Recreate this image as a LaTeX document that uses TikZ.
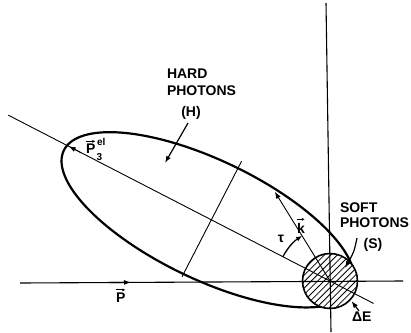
\documentclass[tikz,border=0pt]{standalone}
\usepackage{fontspec}
\setmainfont{Liberation Sans}
\usetikzlibrary{arrows.meta,calc}
\begin{document}
\begin{tikzpicture}[x=1pt,y=-1pt,
  lab/.style={font=\fontsize{14}{16}\selectfont\bfseries, inner sep=0pt, outer sep=0pt},
  smalllab/.style={font=\fontsize{10}{12}\selectfont\bfseries, inner sep=0pt, outer sep=0pt},
  boundary/.style={line width=2.2pt},
  axisline/.style={line width=1.1pt},
  thinline/.style={line width=0.9pt},
  hatchline/.style={line width=0.8pt},
  arr/.style={-{Latex[length=7pt,width=5pt]}},
  vecarr/.style={line width=0.9pt, -{Latex[length=3pt,width=3pt]}}]
\fill[white] (0,0) rectangle (411,332);
\useasboundingbox (0,0) rectangle (411,332);
\coordinate (O) at (330,281);

% ellipse (hard photons region), in a frame along the major axis
\begin{scope}[shift={(O)}, rotate=152.73]
  \draw[boundary] plot[domain=0:357.5, samples=144, smooth cycle, variable=\t]
    ({136.5 + 160*cos(\t)*cos(1.6) + 59.5*sin(\t)*sin(1.6)},
     {-1.5 - 160*cos(\t)*sin(1.6) + 59.5*sin(\t)*cos(1.6)});
\end{scope}

% soft photon sphere
\fill[white] (O) circle[radius=27.5];
\begin{scope}
  \clip (O) circle[radius=27.5];
  \foreach \d in {-70,-63.6,...,70}
    \draw[hatchline] ($(O)+(\d-40,40)$) -- ($(O)+(\d+40,-40)$);
\end{scope}
\draw[line width=1.6pt] (O) circle[radius=27.5];

% axes
\coordinate (hl) at (20,283);
\coordinate (hr) at (403,281);
\coordinate (vt) at (326,3);
\coordinate (vb) at (331,332);
\draw[axisline] (hl) -- (hr);
\draw[axisline] (vt) -- (vb);
\coordinate (ptail) at (110,282.5);
\coordinate (phead) at (131,282.4);
\draw[axisline, arr] (ptail) -- (phead);

% rotated frame along the major axis
\begin{scope}[shift={(O)}, rotate=152.73]
  \coordinate (dA) at (-49,0);
  \coordinate (dB) at (362,0);
  \coordinate (mA) at (133.5,66);
  \coordinate (mB) at (133.5,-64);
  \coordinate (tipA) at (280,0);
  \coordinate (tip) at (294,0);
  \coordinate (kend) at (31:105);
  \coordinate (tauA) at (0:53);
  \draw[thinline] (dA) -- (dB);
  \draw[thinline] (mA) -- (mB);
  \draw[thinline, arr] (tipA) -- (tip);
  \draw[thinline, arr] (O) -- (kend);
  \draw[line width=1.3pt, -{Latex[length=6pt,width=5pt]}] (tauA) arc[start angle=0, end angle=31, radius=53];
\end{scope}

% labels
\node[lab, anchor=base west] (hard) at (167,78) {HARD};
\node[lab, anchor=base west] (hphot) at (167,95) {PHOTONS};
\node[lab, anchor=base] (hlab) at (191,116) {(H)};
\node[lab, anchor=base west] (soft) at (340,212) {SOFT};
\node[lab, anchor=base west] (sphot) at (340,227) {PHOTONS};
\node[lab, anchor=base] (slab) at (373,248) {(S)};
\node[lab, anchor=base west] (pvec) at (116,302) {P};
\draw[vecarr] ([yshift=2.5pt]pvec.north west) -- ([yshift=2.5pt]pvec.north east);
\node[lab, anchor=base west] (p3) at (86,153) {P};
\node[smalllab, anchor=base west] (p3sub) at (96.5,160) {3};
\node[smalllab, anchor=base west] (p3sup) at (97,145) {el};
\draw[vecarr] ([yshift=2pt]p3.north west) -- ([yshift=2pt]p3.north east);
\node[lab, anchor=base west] (kvec) at (297,233) {k};
\draw[vecarr] ([yshift=3.5pt]kvec.north west) -- ([yshift=3.5pt]kvec.north east);
\node[lab] (tau) at (281,239) {τ};
\node[lab, anchor=base west] (de) at (352,321) {ΔE};

% pointer arrows
\coordinate (hA) at (188,123);
\coordinate (hB) at (165,163);
\draw[line width=1.2pt, arr] (hA) -- (hB);
\coordinate (sA) at (357,238);
\coordinate (sB) at (345,268);
\draw[line width=1.2pt, arr] (sA) .. controls (354,252) .. (sB);
\coordinate (eA) at (359,311);
\coordinate (eB) at (351.5,301);
\draw[line width=1.2pt, arr] (eA) -- (eB);
\end{tikzpicture}
\end{document}
